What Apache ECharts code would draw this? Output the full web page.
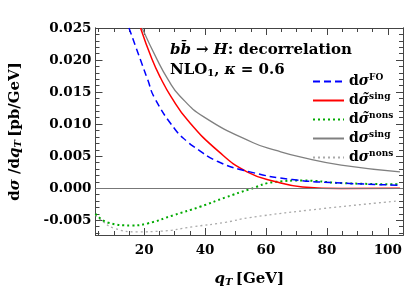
<!DOCTYPE html>
<html><head><meta charset="utf-8">
<script src="https://cdn.jsdelivr.net/npm/echarts@6/dist/echarts.min.js"></script>
<style>html,body{margin:0;padding:0;background:#fff}#c{width:407px;height:293px}</style>
</head><body><div id="c"></div>
<script>
// Data
const qFO = [15.0, 18.8, 21.1, 23.4, 30.1, 34.3, 36.5, 44.0, 54.7, 68.6, 85.0, 104.0];
const vFO = [0.025, 0.0200, 0.0170, 0.0141, 0.0092, 0.0072, 0.0064, 0.0042, 0.00255, 0.00136, 0.0008, 0.00047];
const qSingT = [18.8, 22.5, 25.4, 28.8, 34.3, 44.5, 53.6, 63.3, 72.0, 84.7, 104.0];
const vSingT = [0.025, 0.0202, 0.0172, 0.0143, 0.0106, 0.0057, 0.0026, 0.001, 0.0002, -0.00005, 0.0];
const qNonsT = [4.0, 8.3, 15.8, 21.1, 29.7, 38.3, 46.9, 54.4, 63.3, 71.9, 84.7, 104.0];
const vNonsT = [-0.0040, -0.0054, -0.0058, -0.0055, -0.0042, -0.0029, -0.0014, -0.0002, 0.001, 0.0012, 0.0008, 0.0006];
const qSing = [19.3, 24.2, 27.9, 31.7, 39.7, 55.8, 63.3, 71.9, 84.7, 104.0];
const vSing = [0.025, 0.0201, 0.0169, 0.0144, 0.0111, 0.0071, 0.0059, 0.0048, 0.0036, 0.00255];
const qNons = [4.0, 5.1, 10.4, 17.9, 25.4, 36.2, 46.9, 54.4, 78.3, 103.0];
const vNons = [-0.0042, -0.0047, -0.0063, -0.0068, -0.0067, -0.0060, -0.0053, -0.0046, -0.0032, -0.0020];
const xTickLabels = [20, 40, 60, 80, 100];
const yTickLabels = [-0.005, 0.000, 0.005, 0.010, 0.015, 0.020, 0.025];

const X_MIN = 4, X_MAX = 105, Y_MIN = -0.0073, Y_MAX = 0.025;
const xMinor = []; for (let v = 5; v <= 105; v += 5) xMinor.push(v);
const yMinor = []; for (let k = -7; k <= 25; k++) yMinor.push(k / 1000);

const F = 'DejaVu Serif';
const pair = (a, b) => a.map((x, i) => [x, b[i]]);
const AX = '#444';

function xAx(pos, ticks, len, labels) {
  return {
    type: 'value', position: pos, min: X_MIN, max: X_MAX,
    axisLine: { show: true, onZero: false, lineStyle: { color: AX, width: 1 } },
    axisTick: { show: true, inside: true, length: len, customValues: ticks, lineStyle: { color: AX } },
    axisLabel: labels ? { show: true, customValues: xTickLabels, fontFamily: F, fontWeight: 'bold', fontSize: 13.5, color: '#000', margin: 8 } : { show: false },
    splitLine: { show: false }
  };
}
function yAx(pos, ticks, len, labels) {
  return {
    type: 'value', position: pos, min: Y_MIN, max: Y_MAX,
    axisLine: { show: true, onZero: false, lineStyle: { color: AX, width: 1 } },
    axisTick: { show: true, inside: true, length: len, customValues: ticks, lineStyle: { color: AX } },
    axisLabel: labels ? { show: true, customValues: yTickLabels, fontFamily: F, fontWeight: 'bold', fontSize: 13.5, color: '#000', margin: 4,
      formatter: v => v.toFixed(3).replace('-0.000', '0.000') } : { show: false },
    splitLine: { show: false }
  };
}

const xAxes = [xAx('bottom', xTickLabels, 7, true), xAx('bottom', xMinor, 4, false), xAx('top', xTickLabels, 7, false), xAx('top', xMinor, 4, false)];
const yAxes = [yAx('left', yTickLabels, 7, true), yAx('left', yMinor, 4, false), yAx('right', yTickLabels, 7, false), yAx('right', yMinor, 4, false)];
const nameRich = {
  i: { fontFamily: F, fontWeight: 'bold', fontStyle: 'italic', fontSize: 15, color: '#000' },
  sub: { fontFamily: F, fontWeight: 'bold', fontStyle: 'italic', fontSize: 10, color: '#000', padding: [6, 0, 0, 0] },
  r: { fontFamily: F, fontWeight: 'bold', fontSize: 15, color: '#000' } };
xAxes[0].name = '{i|q}{sub|T} {r|[GeV]}';
xAxes[0].nameLocation = 'middle';
xAxes[0].nameGap = 36;
xAxes[0].nameTextStyle = { rich: nameRich };
yAxes[0].name = '{r|d}{i|σ}{r| /d}{i|q}{sub|T} {r|[pb/GeV]}';
yAxes[0].nameLocation = 'middle';
yAxes[0].nameGap = 72;
yAxes[0].nameTextStyle = { rich: nameRich };

const legendLabel = {
  FO: '{d|d}{s|σ}{sup|FO}',
  singT: '{d|d}{s|σ̃}{sup|sing}',
  nonsT: '{d|d}{s|σ̃}{sup|nons}',
  sing: '{d|d}{s|σ}{sup|sing}',
  nons: '{d|d}{s|σ}{sup|nons}'
};

function ser(name, data, color, type, width) {
  return {
    name, type: 'line', data, smooth: 0.5, symbol: 'none', showSymbol: false, clip: true,
    xAxisIndex: 0, yAxisIndex: 0,
    lineStyle: { color, type, width }, itemStyle: { color }
  };
}
const series = [
  ser('nons', pair(qNons, vNons), '#aaaaaa', [2, 3], 1.3),
  ser('sing', pair(qSing, vSing), '#808080', 'solid', 1.3),
  ser('nonsT', pair(qNonsT, vNonsT), '#00aa00', [2, 3], 2),
  ser('singT', pair(qSingT, vSingT), '#ff0000', 'solid', 1.5),
  ser('FO', pair(qFO, vFO), '#0000ff', [7, 4], 1.5)
];
series[0].markLine = { silent: true, symbol: 'none', label: { show: false },
  lineStyle: { color: '#777', type: 'solid', width: 1 }, data: [{ yAxis: 0 }] };

const chart = echarts.init(document.getElementById('c'), null, { renderer: 'canvas' });
chart.setOption({
  animation: false,
  grid: { left: 89, top: 28, right: 4, bottom: 58, containLabel: false },
  title: {
    left: 165, top: 35,
    text: '{bi|b}{bi|b̄} {r|→} {bi|H}{r|: decorrelation}\n{r|NLO}{sub|1}{r|,} {bi|κ} {r|= 0.6}',
    textStyle: { rich: {
      bi: { fontFamily: F, fontWeight: 'bold', fontStyle: 'italic', fontSize: 15, color: '#000', lineHeight: 20 },
      r: { fontFamily: F, fontWeight: 'bold', fontSize: 15, color: '#000', lineHeight: 20 },
      sub: { fontFamily: F, fontWeight: 'bold', fontSize: 10, color: '#000', padding: [6, 0, 0, 0], lineHeight: 20 } } }
  },
  legend: {
    orient: 'vertical', left: 307, top: 68, itemWidth: 31, itemHeight: 10, itemGap: 2,
    data: ['FO', 'singT', 'nonsT', 'sing', 'nons'],
    itemStyle: { opacity: 0 },
    lineStyle: { opacity: 1 },
    formatter: n => legendLabel[n],
    textStyle: { rich: {
      d: { fontFamily: F, fontWeight: 'bold', fontSize: 14, color: '#000', lineHeight: 14 },
      s: { fontFamily: F, fontWeight: 'bold', fontStyle: 'italic', fontSize: 14, color: '#000', lineHeight: 14 },
      sup: { fontFamily: F, fontWeight: 'bold', fontSize: 9, color: '#000', padding: [0, 0, 8, 0], lineHeight: 14 } } }
  },
  xAxis: xAxes,
  yAxis: yAxes,
  series
});
</script></body></html>
